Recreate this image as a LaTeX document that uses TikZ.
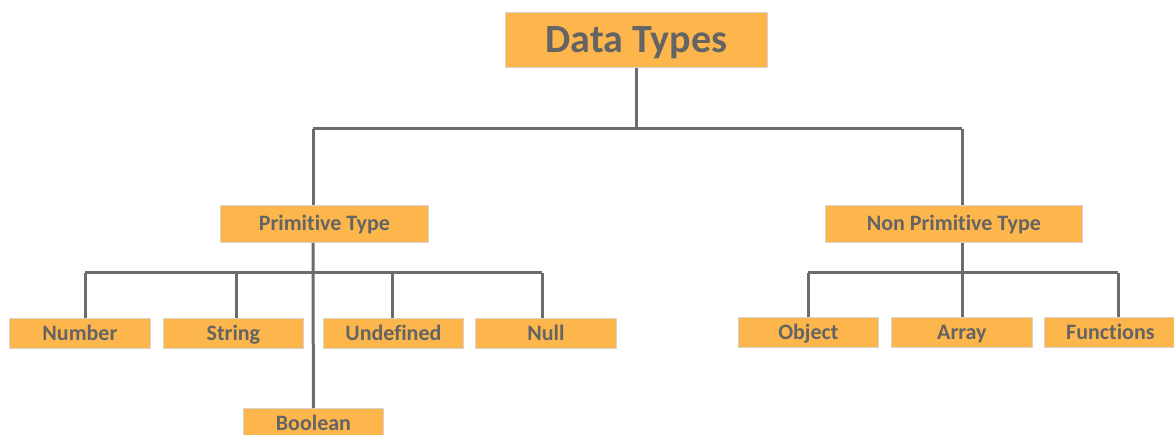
\documentclass[tikz,border=0pt]{standalone}
\usepackage{fontspec}
\setmainfont{Carlito}[RawFeature={-liga;-clig;-calt;-dlig}]
\definecolor{boxfill}{HTML}{FCB64C}
\definecolor{boxline}{HTML}{D8D3CC}
\definecolor{txt}{HTML}{646464}
\definecolor{conn}{HTML}{6C6C6C}
\begin{document}
\begin{tikzpicture}[x=1pt,y=-1pt,
  box/.style={draw=boxline,line width=0.8pt,fill=boxfill,text=txt,font=\fontsize{22}{24}\selectfont\bfseries,inner sep=0pt,text height=14.2pt,text depth=0pt,anchor=north west},
  conn/.style={draw=conn,line width=3pt}]
\useasboundingbox (0,0) rectangle (1174,435);
% boxes
\node[box,font=\fontsize{40}{44}\selectfont\bfseries,text height=25.8pt,minimum width=262,minimum height=55] (dt) at (505,12) {Data Types};
\node[box,minimum width=208,minimum height=37] (prim) at (220,205) {Primitive Type};
\node[box,minimum width=257,minimum height=37] (nprim) at (825,205) {Non Primitive Type};
\node[box,minimum width=141,minimum height=30] (num) at (9,318) {Number};
\node[box,minimum width=140,minimum height=30] (str) at (163,318) {String};
\node[box,minimum width=140,minimum height=30] (und) at (323,318) {Undefined};
\node[box,minimum width=141,minimum height=30] (null) at (475,318) {Null};
\node[box,minimum width=140,minimum height=30] (bool) at (243,408) {Boolean};
\node[box,minimum width=140,minimum height=30] (obj) at (738,317) {Object};
\node[box,minimum width=141,minimum height=30] (arr) at (891,317) {Array};
\node[box,minimum width=132,minimum height=30] (fun) at (1044,317) {Functions};
% junctions
\coordinate (j0) at (636,129);
\coordinate (jl) at (313,129);
\coordinate (jr) at (962,129);
\coordinate (pl) at (313,273);
\coordinate (pr) at (962,273);
\coordinate (hn) at (85,273);
\coordinate (hs) at (236,273);
\coordinate (hu) at (392,273);
\coordinate (hl) at (542,273);
\coordinate (ho) at (808,273);
\coordinate (ha) at (962,273);
\coordinate (hf) at (1118,273);
% connectors
\draw[conn] (dt.south -| j0) -- (j0);
\draw[conn] (jl) -- (jr);
\draw[conn] (jl) -- (prim.north -| jl);
\draw[conn] (jr) -- (nprim.north -| jr);
\draw[conn] (prim.south -| pl) -- (bool.north);
\draw[conn] (hn) -- (hl);
\draw[conn] (hn) -- (num.north -| hn);
\draw[conn] (hs) -- (str.north -| hs);
\draw[conn] (hu) -- (und.north -| hu);
\draw[conn] (hl) -- (null.north -| hl);
\draw[conn] (nprim.south -| pr) -- (pr);
\draw[conn] (ho) -- (hf);
\draw[conn] (ho) -- (obj.north -| ho);
\draw[conn] (ha) -- (arr.north -| ha);
\draw[conn] (hf) -- (fun.north -| hf);
\end{tikzpicture}
\end{document}
